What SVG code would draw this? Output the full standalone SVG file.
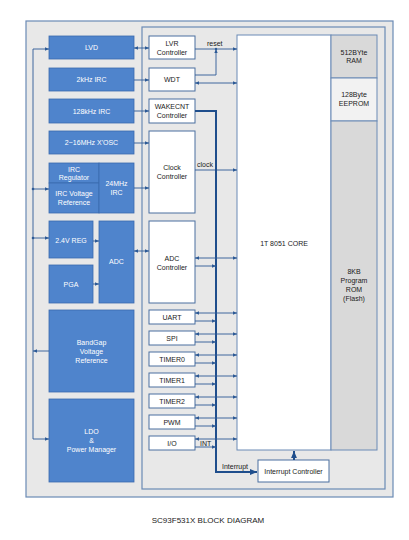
<svg xmlns="http://www.w3.org/2000/svg" width="409" height="540" viewBox="0 0 409 540">
<defs>
<marker id="a" viewBox="0 0 6 6" refX="6" refY="3" markerWidth="4" markerHeight="4" orient="auto-start-reverse" markerUnits="userSpaceOnUse"><path d="M0,0.5 L6,3 L0,5.5 z" fill="#2d5a96"/></marker>
<marker id="b" viewBox="0 0 6 6" refX="6" refY="3" markerWidth="7" markerHeight="7" orient="auto-start-reverse" markerUnits="userSpaceOnUse"><path d="M0,0.5 L6,3 L0,5.5 z" fill="#1f4e8c"/></marker>
<style>
.frame{fill:#e8e8e8;stroke:#6a8ab5;stroke-width:1.2}
.blue{fill:#4f84cc;stroke:#3a6aae;stroke-width:0.8}
.white{fill:#ffffff;stroke:#4a6f9f;stroke-width:1}
.wt{font-family:"Liberation Sans",Arial,sans-serif;font-size:7px;fill:#ffffff;text-anchor:middle}
.dt{font-family:"Liberation Sans",Arial,sans-serif;font-size:7px;fill:#1a1a1a;text-anchor:middle}
.lt{font-family:"Liberation Sans",Arial,sans-serif;font-size:7px;fill:#1a1a1a}
.c{fill:none;stroke:#2d5a96;stroke-width:0.9}
.bus{fill:none;stroke:#1f4e8c;stroke-width:2}
</style>
</defs>
<rect width="409" height="540" fill="#ffffff"/>
<rect class="frame" x="26" y="21" width="367" height="476"/>
<rect class="frame" x="142" y="27" width="243" height="462"/>

<g id="core"><rect x="237" y="35" width="94" height="415" fill="#ffffff" stroke="#6a8ab5" stroke-width="1"/><text class="dt" x="284" y="246">1T 8051 CORE</text></g>
<g id="ram"><rect x="331" y="35" width="46" height="43" fill="#d9d9d9" stroke="#6a8ab5" stroke-width="1"/><text class="dt" x="354" y="55">512BYte</text><text class="dt" x="354" y="63">RAM</text></g>
<g id="eeprom"><rect x="331" y="78" width="46" height="43" fill="#f2f2f2" stroke="#6a8ab5" stroke-width="1"/><text class="dt" x="354" y="97">128Byte</text><text class="dt" x="354" y="106">EEPROM</text></g>
<g id="rom"><rect x="331" y="121" width="46" height="329" fill="#d9d9d9" stroke="#6a8ab5" stroke-width="1"/><text class="dt" x="354" y="274">8KB</text><text class="dt" x="354" y="283">Program</text><text class="dt" x="354" y="292">ROM</text><text class="dt" x="354" y="301">(Flash)</text></g>

<g id="lvd"><rect class="blue" x="49" y="36" width="85" height="23"/><text class="wt" x="91.5" y="50">LVD</text></g>
<g id="irc2k"><rect class="blue" x="49" y="68" width="85" height="23"/><text class="wt" x="91.5" y="82">2kHz IRC</text></g>
<g id="irc128k"><rect class="blue" x="49" y="99" width="85" height="24"/><text class="wt" x="91.5" y="113.5">128kHz IRC</text></g>
<g id="xosc"><rect class="blue" x="49" y="131" width="85" height="23"/><text class="wt" x="91.5" y="145">2~16MHz X'OSC</text></g>
<g id="ircreg"><rect class="blue" x="49" y="163" width="50" height="20"/><text class="wt" x="74" y="171.5">IRC</text><text class="wt" x="74" y="180">Regulator</text></g>
<g id="ircvref"><rect class="blue" x="49" y="183" width="50" height="30"/><text class="wt" x="74" y="195.5">IRC Voltage</text><text class="wt" x="74" y="204.5">Reference</text></g>
<g id="irc24m"><rect class="blue" x="99" y="163" width="35" height="50"/><text class="wt" x="116.5" y="185.5">24MHz</text><text class="wt" x="116.5" y="194.5">IRC</text></g>
<g id="reg24"><rect class="blue" x="49" y="221" width="44" height="37"/><text class="wt" x="71" y="242.5">2.4V REG</text></g>
<g id="pga"><rect class="blue" x="49" y="265" width="44" height="38"/><text class="wt" x="71" y="286.5">PGA</text></g>
<g id="adc"><rect class="blue" x="99" y="221" width="35" height="82"/><text class="wt" x="116.5" y="263.5">ADC</text></g>
<g id="bandgap"><rect class="blue" x="49" y="310" width="85" height="82"/><text class="wt" x="91.5" y="345">BandGap</text><text class="wt" x="91.5" y="354">Voltage</text><text class="wt" x="91.5" y="363">Reference</text></g>
<g id="ldo"><rect class="blue" x="49" y="399" width="85" height="83"/><text class="wt" x="91.5" y="434">LDO</text><text class="wt" x="91.5" y="443">&amp;</text><text class="wt" x="91.5" y="452">Power Manager</text></g>

<g id="lvr"><rect class="white" x="149" y="36" width="46" height="23"/><text class="dt" x="172" y="45.5">LVR</text><text class="dt" x="172" y="54.5">Controller</text></g>
<g id="wdt"><rect class="white" x="149" y="68" width="46" height="23"/><text class="dt" x="172" y="82">WDT</text></g>
<g id="wakecnt"><rect class="white" x="149" y="99" width="46" height="24"/><text class="dt" x="172" y="108.5">WAKECNT</text><text class="dt" x="172" y="117.5">Controller</text></g>
<g id="clockctl"><rect class="white" x="149" y="131" width="46" height="82"/><text class="dt" x="172" y="169.5">Clock</text><text class="dt" x="172" y="178.5">Controller</text></g>
<g id="adcctl"><rect class="white" x="149" y="221" width="46" height="82"/><text class="dt" x="172" y="260.5">ADC</text><text class="dt" x="172" y="269.5">Controller</text></g>
<g id="uart"><rect class="white" x="149" y="310" width="46" height="14"/><text class="dt" x="172" y="319.5">UART</text></g>
<g id="spi"><rect class="white" x="149" y="331" width="46" height="14"/><text class="dt" x="172" y="340.5">SPI</text></g>
<g id="timer0"><rect class="white" x="149" y="352" width="46" height="14"/><text class="dt" x="172" y="361.5">TIMER0</text></g>
<g id="timer1"><rect class="white" x="149" y="373" width="46" height="14"/><text class="dt" x="172" y="382.5">TIMER1</text></g>
<g id="timer2"><rect class="white" x="149" y="394" width="46" height="14"/><text class="dt" x="172" y="403.5">TIMER2</text></g>
<g id="pwm"><rect class="white" x="149" y="415" width="46" height="14"/><text class="dt" x="172" y="424.5">PWM</text></g>
<g id="io"><rect class="white" x="149" y="436" width="46" height="14"/><text class="dt" x="172" y="445.5">I/O</text></g>
<g id="intctl"><rect class="white" x="258" y="460" width="71" height="22"/><text class="dt" x="293.5" y="473.5">Interrupt Controller</text></g>

<g id="connectors">
<!-- left power bus -->
<path class="c" d="M33,439 V49"/>
<path class="c" d="M33,49 H49" marker-end="url(#a)"/>
<path class="c" d="M33,189 H49" marker-end="url(#a)"/>
<path class="c" d="M33,238 H49" marker-end="url(#a)"/>
<path class="c" d="M49,351 H33" marker-end="url(#a)"/>
<path class="c" d="M33,439 H49" marker-end="url(#a)"/>
<circle cx="33" cy="189" r="1.3" fill="#2d5a96"/>
<circle cx="33" cy="238" r="1.3" fill="#2d5a96"/>
<!-- blue to white -->
<path class="c" d="M134,48 H149" marker-start="url(#a)" marker-end="url(#a)"/>
<path class="c" d="M134,80 H149" marker-end="url(#a)"/>
<path class="c" d="M134,111 H149" marker-end="url(#a)"/>
<path class="c" d="M134,143 H149" marker-end="url(#a)"/>
<path class="c" d="M134,188 H149" marker-end="url(#a)"/>
<path class="c" d="M93,241 H99" marker-end="url(#a)"/>
<path class="c" d="M93,284 H99" marker-end="url(#a)"/>
<path class="c" d="M134,251 H149" marker-start="url(#a)" marker-end="url(#a)"/>
<!-- reset / wdt -->
<path class="c" d="M195,49 H237" marker-end="url(#a)"/>
<path class="c" d="M195,75 H216 V49" marker-end="url(#a)"/>
<circle cx="216" cy="49" r="1.2" fill="#2d5a96"/>
<path class="c" d="M195,83 H237" marker-start="url(#a)" marker-end="url(#a)"/>
<text class="lt" x="207" y="46">reset</text>
<!-- clock -->
<path class="c" d="M195,170 H237" marker-end="url(#a)"/>
<text class="lt" x="197" y="167">clock</text>
<!-- interrupt bus -->
<path class="bus" d="M195,111 H216 V472 H256"/>
<path class="bus" d="M250,472 H257" marker-end="url(#b)"/>
<path class="bus" d="M294,460 V451" marker-end="url(#b)"/>
<text class="lt" x="222" y="469">Interrupt</text>
<!-- peripherals -->
<path class="c" d="M195,258 H237" marker-start="url(#a)" marker-end="url(#a)"/>
<path class="c" d="M195,266 H216" marker-end="url(#a)"/>
<path class="c" d="M195,313 H237" marker-start="url(#a)" marker-end="url(#a)"/>
<path class="c" d="M195,321 H216" marker-end="url(#a)"/>
<path class="c" d="M195,334 H237" marker-start="url(#a)" marker-end="url(#a)"/>
<path class="c" d="M195,342 H216" marker-end="url(#a)"/>
<path class="c" d="M195,355 H237" marker-start="url(#a)" marker-end="url(#a)"/>
<path class="c" d="M195,363 H216" marker-end="url(#a)"/>
<path class="c" d="M195,376 H237" marker-start="url(#a)" marker-end="url(#a)"/>
<path class="c" d="M195,384 H216" marker-end="url(#a)"/>
<path class="c" d="M195,397 H237" marker-start="url(#a)" marker-end="url(#a)"/>
<path class="c" d="M195,405 H216" marker-end="url(#a)"/>
<path class="c" d="M195,418 H237" marker-start="url(#a)" marker-end="url(#a)"/>
<path class="c" d="M195,426 H216" marker-end="url(#a)"/>
<path class="c" d="M195,439 H237" marker-start="url(#a)" marker-end="url(#a)"/>
<path class="c" d="M195,447 H216" marker-end="url(#a)"/>
<text class="lt" x="200" y="446">INT</text>
</g>

<text x="208" y="523" font-family="'Liberation Sans',Arial,sans-serif" font-size="8" fill="#1a1a1a" text-anchor="middle">SC93F531X BLOCK DIAGRAM</text>
</svg>
